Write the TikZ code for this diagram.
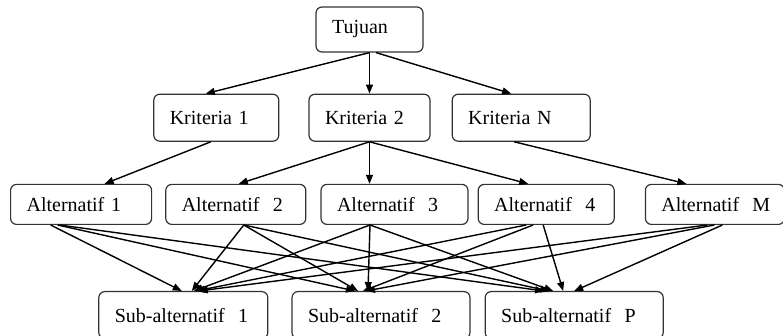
\documentclass[tikz,border=0pt]{standalone}
\usepackage{fontspec}
\setmainfont{Liberation Serif}
\usepackage{tikz}
\usetikzlibrary{arrows.meta, positioning}

\begin{document}
\begin{tikzpicture}[
    box/.style={rectangle, draw=black!80, line width=0.6pt, rounded corners=3pt, align=left, inner xsep=8pt, font=\fontsize{10}{12}\selectfont},
    krit/.style={box, minimum height=23.5pt},
    alt/.style={box, minimum height=20pt},
    sub/.style={box, minimum height=23.5pt},
    arrow/.style={-{Triangle[length=4.5pt,width=3.5pt]}, line width=0.7pt}
]
\useasboundingbox (0,0) rectangle (391.5pt,-168pt);

\node[box, minimum height=22.5pt, text width=37.5pt] (tujuan) at (184.75pt,-14.75pt) {Tujuan};

% kriteria
\node[krit, text width=44.5pt, below=20.5pt of tujuan] (k2) {Kriteria 2};
\node[krit, text width=46.5pt, left=14.5pt of k2] (k1) {Kriteria 1};
\node[krit, text width=53pt, right=10.5pt of k2] (kN) {Kriteria N};

% alternatif
\node[alt, text width=57.5pt, below=21pt of k2, xshift=12.5pt] (a3) {Alternatif~~3};
\node[alt, text width=54pt, left=7pt of a3] (a2) {Alternatif~~2};
\node[alt, text width=54.5pt, left=6.5pt of a2] (a1) {Alternatif 1};
\node[alt, text width=52pt, right=4.5pt of a3] (a4) {Alternatif~~4};
\node[alt, text width=53.5pt, right=15pt of a4] (aM) {Alternatif~~M};

% sub-alternatif
\node[sub, text width=73pt, below=33pt of a3, xshift=-6.75pt] (s2) {Sub-alternatif~~2};
\node[sub, text width=68.5pt, left=11.5pt of s2] (s1) {Sub-alternatif~~1};
\node[sub, text width=73pt, right=7pt of s2] (sP) {Sub-alternatif~~P};

\draw[arrow] (tujuan.south) -- ([xshift=-5.25pt]k1.north);
\draw[arrow] (tujuan.south) -- (k2.north);
\draw[arrow] ([xshift=3.25pt]tujuan.south) -- ([xshift=-5pt]kN.north);

\draw[arrow] ([xshift=-2.75pt]k1.south) -- ([xshift=11.75pt]a1.north);
\draw[arrow] (k2.south) -- ([xshift=1.5pt]a2.north);
\draw[arrow] (k2.south) -- (k2.south |- a3.north);
\draw[arrow] (k2.south) -- ([xshift=-9pt]a4.north);
\draw[arrow] ([xshift=-3.5pt]kN.south) -- ([xshift=-14.25pt]aM.north);

% every alternatif to every sub-alternatif
\foreach \src/\sx/\dst/\dx in {a1/-15.25/s1/-0.75, a1/-11.75/s2/-13, a1/-10.75/sP/-15,
    a2/4/s1/4.25, a2/4/s2/-11.5, a2/4/sP/-12.5,
    a3/-12.25/s1/5.25, a3/-12.25/s2/-6.5, a3/-12.25/sP/-10.5,
    a4/-10/s1/6.25, a4/-6.5/s2/-9, a4/-1.5/sP/-5.5,
    aM/-3.75/s1/7.75, aM/-0.25/s2/-7.5, aM/3.75/sP/0}
    \draw[arrow] ([xshift=\sx pt]\src.south) -- ([xshift=\dx pt]\dst.north);
\end{tikzpicture}
\end{document}
